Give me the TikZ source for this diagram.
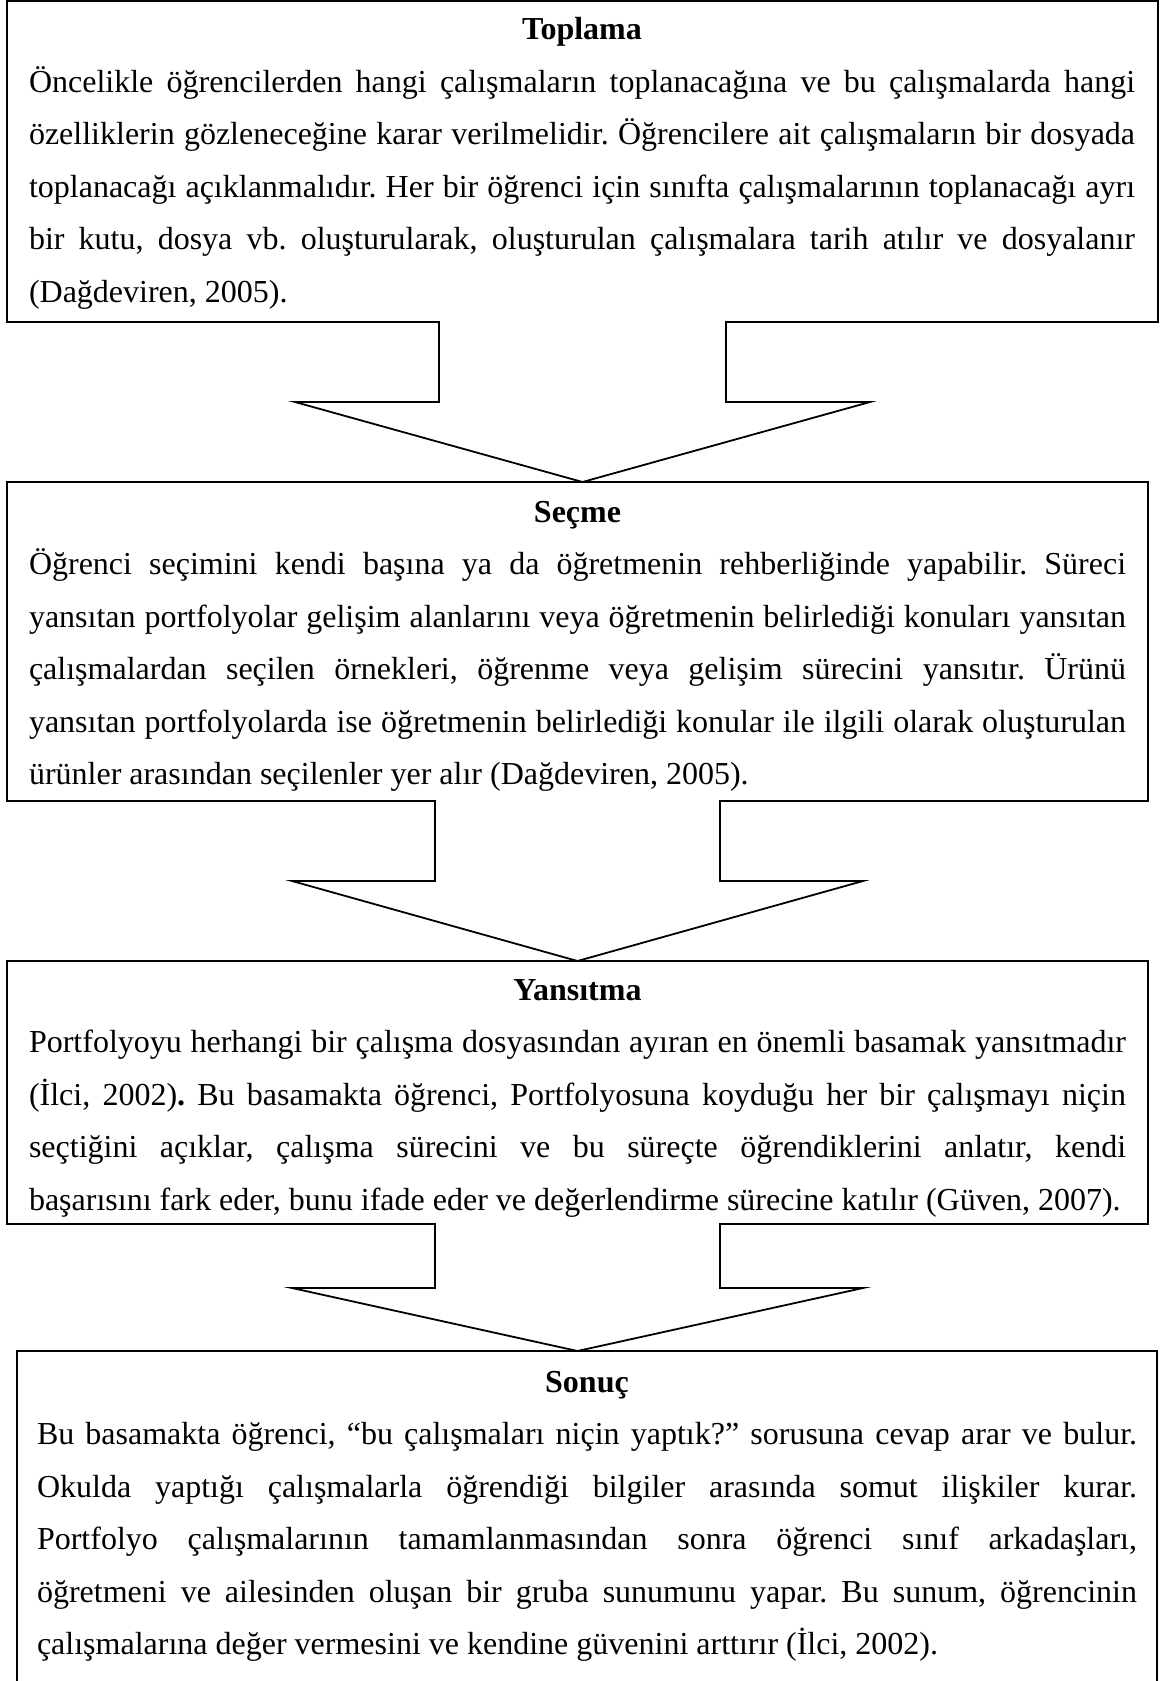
\documentclass[tikz,border=0pt]{standalone}
\usepackage{fontspec}
\setmainfont{Liberation Serif}
\usetikzlibrary{calc}

% one line of a box: stretched to the full width, left-aligned, or a bold centred heading
\newcommand\plainspaces{\spaceskip=0pt\xspaceskip=0pt\frenchspacing}
\newcommand\fullln[1]{\makebox[\linewidth][s]{\plainspaces\strut#1}}
\newcommand\lastln[1]{\makebox[\linewidth][l]{\plainspaces\strut#1}}
\newcommand\headln[1]{\makebox[\linewidth][c]{\plainspaces\strut\bfseries#1}}

\begin{document}
\begin{tikzpicture}[x=1pt,y=-1pt,
  frame/.style={draw=black,line width=1.8pt,line join=miter},
  area/.style={inner sep=0pt,outer sep=0pt,anchor=north west},
  body/.style={inner sep=0pt,outer sep=0pt,anchor=north,align=left,
               font=\fontsize{32}{52.5}\selectfont}]
\useasboundingbox (0,0) rectangle (1161,1681);
\clip (0,0) rectangle (1161,1681);

% the four stage boxes
\node[area,minimum width=1151pt,minimum height=321pt] (b1) at (7,1) {};
\node[area,minimum width=1141pt,minimum height=319pt] (b2) at (7,482) {};
\node[area,minimum width=1141pt,minimum height=263pt] (b3) at (7,961) {};
\node[area,minimum width=1140pt,minimum height=340pt] (b4) at (17,1351) {};

% box outlines, each merged with the block arrow that leads to the next box
\draw[frame] (b1.north west) -- (b1.north east) -- (b1.south east)
  -- ($(b1.south)+(143.5,0)$) -- ++(0,80) -- ++(144,0)
  -- (b1.south |- b2.north)
  -- ($(b1.south)+(-287.5,80)$) -- ++(144,0) -- ($(b1.south)+(-143.5,0)$)
  -- (b1.south west) -- cycle;

\draw[frame] (b2.north west) -- (b2.north east) -- (b2.south east)
  -- ($(b2.south)+(142.5,0)$) -- ++(0,80) -- ++(143,0)
  -- (b2.south |- b3.north)
  -- ($(b2.south)+(-285.5,80)$) -- ++(143,0) -- ($(b2.south)+(-142.5,0)$)
  -- (b2.south west) -- cycle;

\draw[frame] (b3.north west) -- (b3.north east) -- (b3.south east)
  -- ($(b3.south)+(142.5,0)$) -- ++(0,64) -- ++(143,0)
  -- (b3.south |- b4.north)
  -- ($(b3.south)+(-285.5,64)$) -- ++(143,0) -- ($(b3.south)+(-142.5,0)$)
  -- (b3.south west) -- cycle;

\draw[frame] (b4.south west) -- (b4.north west) -- (b4.north east) -- (b4.south east);

% texts
\node[body,text width=1106pt] (t1) at (582,2.75) {%
\headln{Toplama}\\
\fullln{Öncelikle öğrencilerden hangi çalışmaların toplanacağına ve bu çalışmalarda hangi}\\
\fullln{özelliklerin gözleneceğine karar verilmelidir. Öğrencilere ait çalışmaların bir dosyada}\\
\fullln{toplanacağı açıklanmalıdır. Her bir öğrenci için sınıfta çalışmalarının toplanacağı ayrı}\\
\fullln{bir kutu, dosya vb. oluşturularak, oluşturulan çalışmalara tarih atılır ve dosyalanır}\\
\lastln{(Dağdeviren, 2005).}};

\node[body,text width=1097pt] (t2) at (577.5,485.25) {%
\headln{Seçme}\\
\fullln{Öğrenci seçimini kendi başına ya da öğretmenin rehberliğinde yapabilir. Süreci}\\
\fullln{yansıtan portfolyolar gelişim alanlarını veya öğretmenin belirlediği konuları yansıtan}\\
\fullln{çalışmalardan seçilen örnekleri, öğrenme veya gelişim sürecini yansıtır. Ürünü}\\
\fullln{yansıtan portfolyolarda ise öğretmenin belirlediği konular ile ilgili olarak oluşturulan}\\
\lastln{ürünler arasından seçilenler yer alır (Dağdeviren, 2005).}};

\node[body,text width=1097pt] (t3) at (577.5,963.25) {%
\headln{Yansıtma}\\
\fullln{Portfolyoyu herhangi bir çalışma dosyasından ayıran en önemli basamak yansıtmadır}\\
\fullln{(İlci, 2002)\textbf{.} Bu basamakta öğrenci, Portfolyosuna koyduğu her bir çalışmayı niçin}\\
\fullln{seçtiğini açıklar, çalışma sürecini ve bu süreçte öğrendiklerini anlatır, kendi}\\
\lastln{başarısını fark eder, bunu ifade eder ve değerlendirme sürecine katılır (Güven, 2007).}};

\node[body,text width=1100pt] (t4) at (587,1355.25) {%
\headln{Sonuç}\\
\fullln{Bu basamakta öğrenci, “bu çalışmaları niçin yaptık?” sorusuna cevap arar ve bulur.}\\
\fullln{Okulda yaptığı çalışmalarla öğrendiği bilgiler arasında somut ilişkiler kurar.}\\
\fullln{Portfolyo çalışmalarının tamamlanmasından sonra öğrenci sınıf arkadaşları,}\\
\fullln{öğretmeni ve ailesinden oluşan bir gruba sunumunu yapar. Bu sunum, öğrencinin}\\
\lastln{çalışmalarına değer vermesini ve kendine güvenini arttırır (İlci, 2002).}};
\end{tikzpicture}
\end{document}
